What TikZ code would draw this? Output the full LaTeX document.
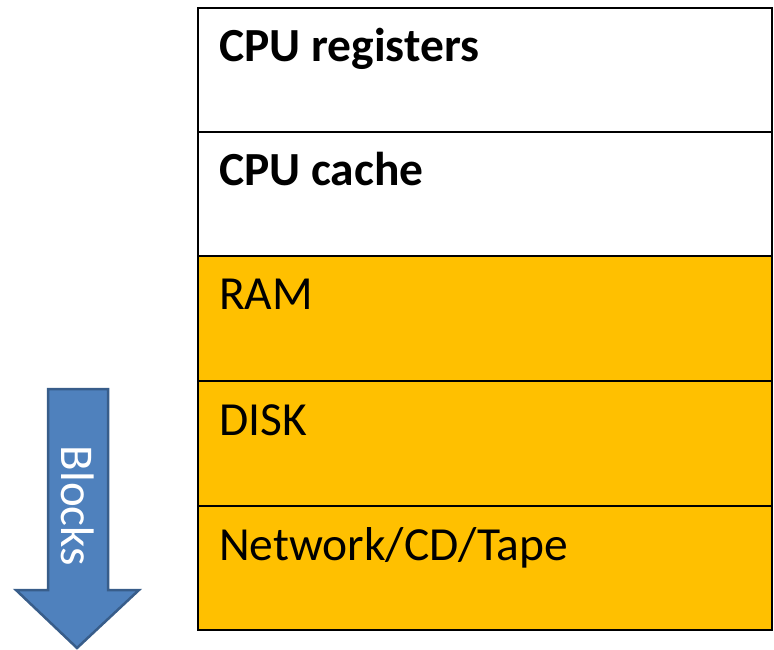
\documentclass[tikz,border=0pt]{standalone}
\usepackage{fontspec}
\setmainfont{Carlito}
\definecolor{tierfill}{HTML}{FFC000}
\definecolor{arrowfill}{HTML}{4F81BD}
\definecolor{arrowline}{HTML}{385D8A}
\begin{document}
\begin{tikzpicture}[x=1pt,y=1pt,
  tier/.style={draw=black,line width=2pt},
  tierlabel/.style={anchor=base west,inner sep=0pt,font=\fontsize{47.5}{54}\selectfont},
]
\useasboundingbox (0,0) rectangle (774,649);
% memory hierarchy rows, fastest on top
\path[tier,fill=white]     (198,641) rectangle (772,517);
\path[tier,fill=white]     (198,517) rectangle (772,393);
\path[tier,fill=tierfill]  (198,393) rectangle (772,268);
\path[tier,fill=tierfill]  (198,268) rectangle (772,143);
\path[tier,fill=tierfill]  (198,143) rectangle (772,19);
\node[tierlabel] (reg)   at (219,587) {\bfseries CPU registers};
\node[tierlabel] (cache) at (219,463) {\bfseries CPU cache};
\node[tierlabel] (ram)   at (219,339) {RAM};
\node[tierlabel] (disk)  at (219,214) {DISK};
\node[tierlabel] (net)   at (219,89)  {Network/CD/Tape};
% downward block arrow
\draw[fill=arrowfill,draw=arrowline,line width=2.5pt,line join=miter]
  (48,260) -- (108,260) -- (108,59) -- (139,59) -- (77,1) -- (16,59) -- (48,59) -- cycle;
\node[rotate=-90,text=white,inner sep=0pt,font=\fontsize{47}{54}\selectfont] (blk) at (78,143) {Blocks};
\end{tikzpicture}
\end{document}
